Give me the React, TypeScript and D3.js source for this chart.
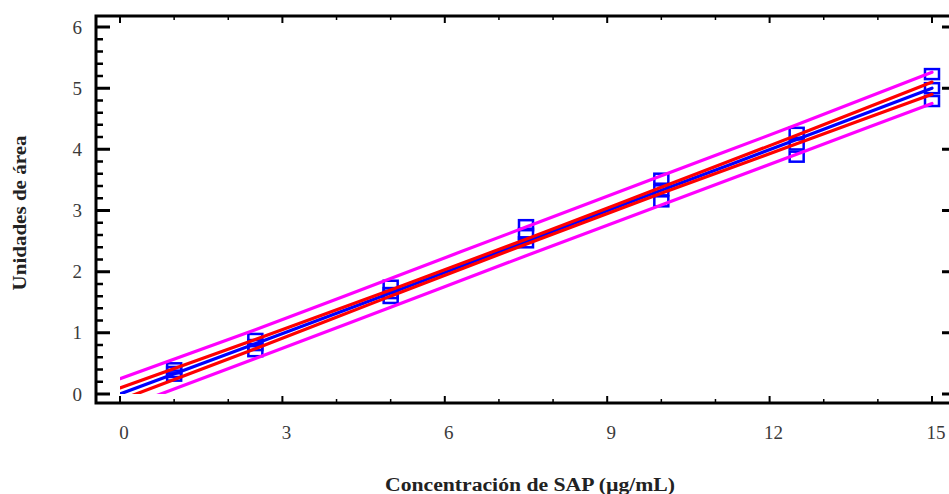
import React, { useEffect, useRef } from 'react';
import * as d3 from 'd3';

// observed concentrations (µg/mL) and area units, 3 replicates each
const concentrations = [1, 1, 1, 2.5, 2.5, 2.5, 5, 5, 5, 7.5, 7.5, 7.5, 10, 10, 10, 12.5, 12.5, 12.5, 15, 15, 15];
const areaUnits = [0.3, 0.36, 0.42, 0.7, 0.8, 0.9, 1.57, 1.65, 1.77, 2.48, 2.62, 2.76, 3.15, 3.33, 3.52, 3.88, 4.08, 4.27, 4.79, 5.0, 5.23];

// fitted line and limits, read at these x positions
const bandX = [0, 2.5, 5, 7.5, 10, 12.5, 15];
const fitted = [0.0, 0.82, 1.65, 2.49, 3.33, 4.16, 5.0];
const confLower = [-0.1, 0.74, 1.6, 2.45, 3.28, 4.09, 4.9];
const confUpper = [0.1, 0.89, 1.7, 2.53, 3.38, 4.23, 5.1];
const predLower = [-0.25, 0.58, 1.42, 2.26, 3.09, 3.92, 4.75];
const predUpper = [0.25, 1.05, 1.89, 2.73, 3.57, 4.4, 5.26];

const xTickLabels = [0, 3, 6, 9, 12, 15];
const yTickLabels = [0, 1, 2, 3, 4, 5, 6];

const App = () => {
  const ref = useRef<SVGSVGElement>(null);

  useEffect(() => {
    const svg = d3.select(ref.current);
    svg.selectAll('*').remove();

    const frame = { left: 96, right: 956, top: 16, bottom: 403 };
    const x = d3.scaleLinear().domain([0, 15]).range([120, 932]);
    const y = d3.scaleLinear().domain([0, 6]).range([394, 27]);

    // clip: lines only inside the axis range
    svg.append('defs').append('clipPath').attr('id', 'plotclip')
      .append('rect')
      .attr('x', x(0)).attr('y', frame.top)
      .attr('width', x(15) - x(0) + 4)
      .attr('height', y(0) - frame.top);

    // points
    svg.append('g')
      .selectAll('rect')
      .data(concentrations.map((c, i) => [c, areaUnits[i]]))
      .join('rect')
        .attr('x', d => x(d[0]) - 7)
        .attr('y', d => y(d[1]) - 5)
        .attr('width', 14)
        .attr('height', 10)
        .attr('fill', 'none')
        .attr('stroke', '#0000ff')
        .attr('stroke-width', 2.5);

    const line = (vals: number[]) => d3.line<number>()
      .x((_, i) => x(bandX[i]))
      .y(d => y(d))
      .curve(d3.curveMonotoneX)(vals);

    const lines = svg.append('g').attr('clip-path', 'url(#plotclip)')
      .attr('fill', 'none').attr('stroke-width', 3.2).attr('stroke-linecap', 'round');
    lines.append('path').attr('d', line(fitted)).attr('stroke', '#0000ff');
    [confLower, confUpper].forEach(v => lines.append('path').attr('d', line(v)).attr('stroke', '#ff0000'));
    [predLower, predUpper].forEach(v => lines.append('path').attr('d', line(v)).attr('stroke', '#ff00ff'));

    // frame
    const axes = svg.append('g').attr('stroke', '#000');
    axes.append('path')
      .attr('d', `M${frame.right},${frame.top}H${frame.left}V${frame.bottom}H${frame.right}`)
      .attr('fill', 'none')
      .attr('stroke-width', 3);

    // x ticks, bottom and top
    const xMinor = d3.range(0, 16, 1).filter(v => v % 3 !== 0);
    axes.selectAll('.xmaj')
      .data(xTickLabels)
      .join('path')
        .attr('d', d => `M${x(d)},${frame.bottom}v-7M${x(d)},${frame.top}v7`)
        .attr('stroke-width', 2);
    axes.selectAll('.xmin')
      .data(xMinor)
      .join('path')
        .attr('class', 'xmin')
        .attr('d', d => `M${x(d)},${frame.bottom}v-4M${x(d)},${frame.top}v4`)
        .attr('stroke-width', 1.5);

    // y ticks, left and right
    const yMinor = d3.range(1, 30).map(v => v / 5).filter(v => Math.abs(v - Math.round(v)) > 0.01);
    const yt = svg.append('g').attr('stroke', '#000');
    yt.selectAll('path.ymaj')
      .data(yTickLabels)
      .join('path')
        .attr('class', 'ymaj')
        .attr('d', d => `M${frame.left},${y(d)}h14M${frame.right},${y(d)}h-14`)
        .attr('stroke-width', 3);
    yt.selectAll('path.ymin')
      .data(yMinor)
      .join('path')
        .attr('class', 'ymin')
        .attr('d', d => `M${frame.left},${y(d)}h7M${frame.right},${y(d)}h-7`)
        .attr('stroke-width', 2.5);

    // tick labels
    const font = '"Liberation Serif", "Times New Roman", serif';
    svg.append('g')
      .attr('font-family', font).attr('font-size', 19).attr('fill', '#3a3a3a')
      .attr('text-anchor', 'middle')
      .selectAll('text')
      .data(xTickLabels)
      .join('text')
        .attr('x', d => x(d) + 4)
        .attr('y', 439)
        .text(d => d);
    svg.append('g')
      .attr('font-family', font).attr('font-size', 19).attr('fill', '#3a3a3a')
      .attr('text-anchor', 'end')
      .selectAll('text')
      .data(yTickLabels)
      .join('text')
        .attr('x', 82)
        .attr('y', d => y(d) + 6.5)
        .text(d => d);

    // axis titles
    svg.append('text')
      .attr('x', 530).attr('y', 491)
      .attr('text-anchor', 'middle')
      .attr('textLength', 290).attr('lengthAdjust', 'spacingAndGlyphs')
      .attr('font-family', font).attr('font-size', 18).attr('font-weight', 'bold').attr('fill', '#222')
      .text('Concentración de SAP (µg/mL)');
    svg.append('text')
      .attr('transform', 'translate(26,213) rotate(-90)')
      .attr('text-anchor', 'middle')
      .attr('textLength', 155).attr('lengthAdjust', 'spacingAndGlyphs')
      .attr('font-family', font).attr('font-size', 18).attr('font-weight', 'bold').attr('fill', '#222')
      .text('Unidades de área');
  }, []);

  return (
    <svg ref={ref} width={949} height={494}
      style={{ position: 'absolute', left: 0, top: 0, background: '#fff', overflow: 'hidden' }} />
  );
};

export default App;
